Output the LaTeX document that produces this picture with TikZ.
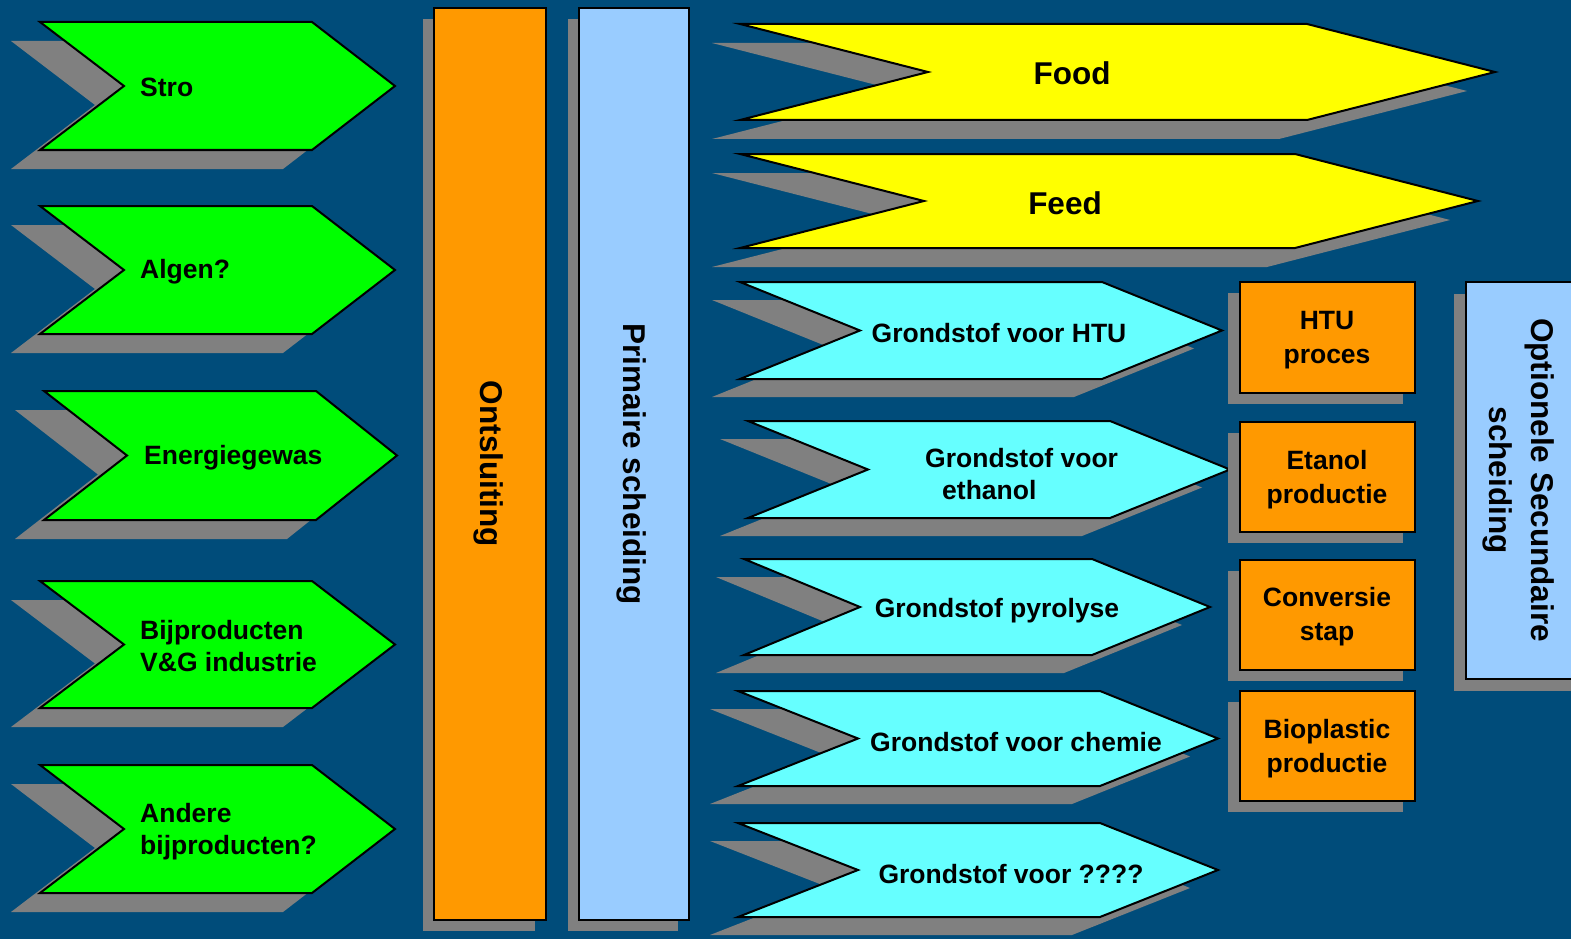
\documentclass[tikz,border=0pt]{standalone}
\usepackage{fontspec}
\setmainfont{Liberation Sans}
\definecolor{bg}{RGB}{0,76,122}
\definecolor{shadowgray}{RGB}{128,128,128}
\definecolor{grn}{RGB}{0,255,0}
\definecolor{ylw}{RGB}{255,255,0}
\definecolor{cyn}{RGB}{102,255,255}
\definecolor{org}{RGB}{255,153,0}
\definecolor{lblue}{RGB}{153,204,255}
% #1 left, #2 top, #3 bottom, #4 notch x, #5 body right, #6 tip x, #7 fill style, #8 #9 shadow shift
\newcommand{\chev}[9]{%
  \fill[shadowgray,shift={(#8,#9)}] (#1,#2) -- (#5,#2) -- (#6,{(#2+#3)/2}) -- (#5,#3) -- (#1,#3) -- (#4,{(#2+#3)/2}) -- cycle;
  \draw[#7] (#1,#2) -- (#5,#2) -- (#6,{(#2+#3)/2}) -- (#5,#3) -- (#1,#3) -- (#4,{(#2+#3)/2}) -- cycle;}
% #1 left, #2 top, #3 right, #4 bottom, #5 fill style, #6 #7 shadow shift
\newcommand{\shbox}[7]{%
  \fill[shadowgray,shift={(#6,#7)}] (#1,#2) rectangle (#3,#4);
  \draw[#5] (#1,#2) rectangle (#3,#4);}
\tikzset{
  grnbox/.style={fill=grn,draw=black,line width=2pt,line join=miter},
  ylwbox/.style={fill=ylw,draw=black,line width=2pt,line join=miter},
  cynbox/.style={fill=cyn,draw=black,line width=2pt,line join=miter},
  orgbox/.style={fill=org,draw=black,line width=2pt},
  barorg/.style={fill=org,draw=black,line width=2.5pt},
  barblue/.style={fill=lblue,draw=black,line width=2.5pt},
  lbl/.style={inner sep=0pt,align=left,font=\fontsize{26.5}{32}\selectfont\bfseries},
  clbl/.style={inner sep=0pt,align=center,font=\fontsize{26.5}{34}\selectfont\bfseries},
  blbl/.style={inner sep=0pt,align=center,font=\fontsize{31.5}{38}\selectfont\bfseries},
  vlbl/.style={inner sep=0pt,align=center,rotate=-90,font=\fontsize{31.5}{42}\selectfont\bfseries}
}
\begin{document}
\begin{tikzpicture}[x=1pt,y=-1pt]
\fill[bg] (0,0) rectangle (1571,939);
\useasboundingbox (0,0) rectangle (1571,939);
\clip (0,0) rectangle (1571,939);

% green input chevrons
\chev{40}{22}{150}{124}{312}{395}{grnbox}{-29}{19}
\chev{40}{206}{334}{124}{312}{395}{grnbox}{-29}{19}
\chev{44}{391}{520}{127}{316}{397}{grnbox}{-29}{19}
\chev{40}{581}{708}{124}{312}{395}{grnbox}{-29}{19}
\chev{40}{765}{893}{124}{312}{395}{grnbox}{-29}{19}
\node[lbl,anchor=west] (stro) at (140,87) {Stro};
\node[lbl,anchor=west] (algen) at (140,272) {Algen?};
\node[lbl,anchor=west] (energie) at (144,458) {Energiegewas};
\node[lbl,anchor=west] (bijprod) at (140,646) {Bijproducten\\V\&G industrie};
\node[lbl,anchor=west] (andere) at (140,832) {Andere\\bijproducten?};

% vertical bars
\shbox{434}{8}{546}{920}{barorg}{-11}{11}
\shbox{579}{8}{689}{920}{barblue}{-11}{11}
\node[vlbl] (ontsluiting) at (489,464) {Ontsluiting};
\node[vlbl] (primaire) at (632,464) {Primaire scheiding};

% yellow chevrons
\chev{740}{24}{120}{928}{1307}{1495}{ylwbox}{-28}{19}
\chev{740}{154}{248}{924}{1295}{1478}{ylwbox}{-28}{19}
\node[blbl] (food) at (1072,73) {Food};
\node[blbl] (feed) at (1065,203) {Feed};

% cyan chevrons
\chev{740}{282}{379}{860}{1102}{1222}{cynbox}{-28}{18}
\chev{748}{421}{518}{868}{1110}{1230}{cynbox}{-28}{18}
\chev{744}{559}{655}{860}{1092}{1210}{cynbox}{-28}{18}
\chev{738}{691}{786}{858}{1100}{1218}{cynbox}{-28}{18}
\chev{738}{823}{917}{858}{1100}{1218}{cynbox}{-28}{18}
\node[clbl] (ghtu) at (999,333) {Grondstof voor HTU};
\node[lbl,anchor=west] (geth) at (925,474) {Grondstof voor\\\hspace*{17pt}ethanol};
\node[clbl] (gpyro) at (997,611) {Grondstof pyrolyse};
\node[clbl] (gchem) at (1016,742) {Grondstof voor chemie};
\node[clbl] (gqq) at (1011,874) {Grondstof voor ????};

% orange process boxes
\shbox{1240}{282}{1415}{393}{orgbox}{-12}{11}
\shbox{1240}{422}{1415}{532}{orgbox}{-12}{11}
\shbox{1240}{560}{1415}{670}{orgbox}{-12}{11}
\shbox{1240}{691}{1415}{801}{orgbox}{-12}{11}
\node[clbl] (htu) at (1327,340) {HTU\\proces};
\node[clbl] (etanol) at (1327,480) {Etanol\\productie};
\node[clbl] (conv) at (1327,617) {Conversie\\stap};
\node[clbl] (biopl) at (1327,749) {Bioplastic\\productie};

% secondary separation
\shbox{1466}{282}{1600}{679}{barblue}{-12}{12}
\node[vlbl] (optsec) at (1519,480) {Optionele Secundaire\\scheiding};
\end{tikzpicture}
\end{document}
